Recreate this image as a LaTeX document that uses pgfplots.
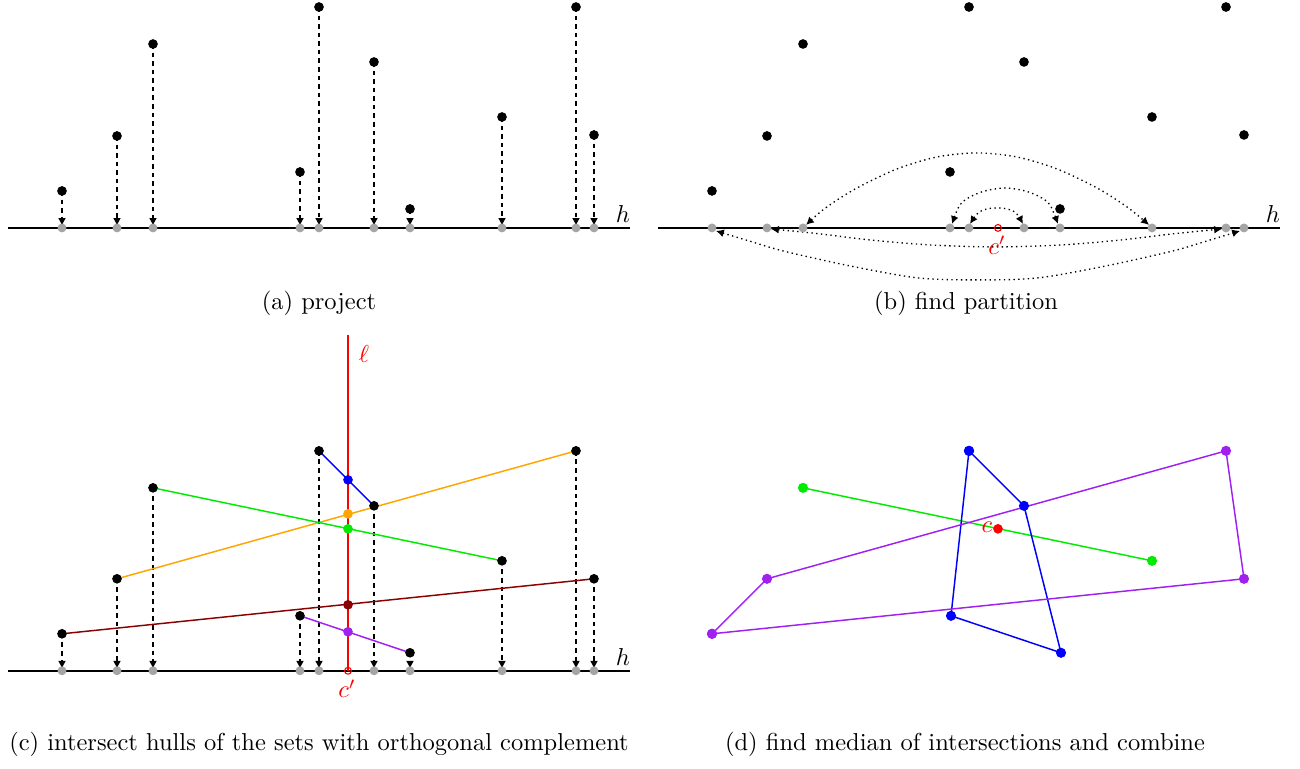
\documentclass[border=0pt]{standalone}
\usepackage{pgfplots}
\pgfplotsset{compat=1.18}
\usetikzlibrary{arrows.meta}
\definecolor{myorange}{RGB}{255,165,0}
\definecolor{mygreen}{RGB}{0,235,0}
\definecolor{mydarkred}{RGB}{139,0,0}
\definecolor{mypurple}{RGB}{160,32,240}
\definecolor{mygrey}{RGB}{165,165,165}
\tikzset{
  tip/.style={-{Latex[length=3.2pt,width=3.2pt]}},
  dtip/.style={{Latex[length=3.2pt,width=3.2pt]}-{Latex[length=3.2pt,width=3.2pt]}},
  proj/.style={black, line width=0.55pt, dash pattern=on 1.9pt off 1.6pt},
  arc/.style={black, line width=0.55pt, dash pattern=on 0.55pt off 1.4pt, smooth},
}
\begin{document}
\begin{tikzpicture}
\begin{axis}[
  scale only axis, width=531pt, height=314pt,
  xmin=0, xmax=1300, ymin=0, ymax=769, y dir=reverse,
  axis lines=none, clip=false,
  blackpt/.style={only marks, mark=*, mark size=1.75pt, black},
  greypt/.style={only marks, mark=*, mark size=1.6pt, draw=mygrey, fill=mygrey},
]
\addplot[draw=none] coordinates {(0,0) (1300,769)};

% ---------------- panel (a)
\addplot[black, line width=0.6pt] coordinates {(8,228) (630,228)};
\addplot[proj, tip, quiver={u=0, v=\thisrow{v}}] table {
x y v
62 191 35
117 136 90
153 44 182
300 172 54
319 7 219
374 62 164
410 209 17
502 117 109
576 7 219
594 135 91
};
\addplot[greypt] coordinates {(62,228) (117,228) (153,228) (300,228) (319,228) (374,228) (410,228) (502,228) (576,228) (594,228)};
\addplot[blackpt] coordinates {(62,191) (117,136) (153,44) (300,172) (319,7) (374,62) (410,209) (502,117) (576,7) (594,135)};
\node[anchor=center] at (axis cs:623,214) {$h$};
\node[anchor=center] at (axis cs:319,303) {(a) project};

% ---------------- panel (b)
\addplot[black, line width=0.6pt] coordinates {(658,228) (1280,228)};
\addplot[arc, dtip] coordinates {(806,225) (827,207) (857,188) (897,169) (937,157) (977,153) (1017,157) (1057,169) (1097,188) (1127,207) (1149,225)};
\addplot[arc, dtip] coordinates {(952,224) (960,205) (970,197) (985,191) (1005,188) (1025,191) (1040,197) (1050,205) (1058,224)};
\addplot[arc, dtip] coordinates {(970,224) (978,213) (987,209) (997,208) (1007,209) (1016,213) (1023,224)};
\addplot[arc, dtip] coordinates {(771,229) (820,234) (870,240) (930,245) (996,247) (1062,245) (1122,240) (1172,234) (1222,229)};
\addplot[arc, dtip] coordinates {(716,231) (749,241) (783,251) (850,266) (918,278) (978,280) (1038,278) (1106,266) (1173,251) (1207,241) (1240,231)};
\addplot[greypt] coordinates {(712,228) (767,228) (803,228) (950,228) (969,228) (1024,228) (1060,228) (1152,228) (1226,228) (1244,228)};
\addplot[blackpt] coordinates {(712,191) (767,136) (803,44) (950,172) (969,7) (1024,62) (1060,209) (1152,117) (1226,7) (1244,135)};
\addplot[only marks, mark=o, mark size=1.4pt, red, line width=0.45pt] coordinates {(998,228)};
\node[red, anchor=center] at (axis cs:997,245) {$c'$};
\node[anchor=center] at (axis cs:1273,214) {$h$};
\node[anchor=center] at (axis cs:966,303) {(b) find partition};

% ---------------- panel (c)
\addplot[black, line width=0.6pt] coordinates {(8,671) (630,671)};
\addplot[proj, tip, quiver={u=0, v=\thisrow{v}}] table {
x y v
62 634 35
117 579 90
153 488 181
300 616 53
319 451 218
374 506 163
410 653 16
502 561 108
576 451 218
594 579 90
};
\addplot[red, line width=0.6pt] coordinates {(348,335) (348,671)};
\addplot[blue, line width=0.6pt] coordinates {(319,451) (374,506)};
\addplot[myorange, line width=0.6pt] coordinates {(117,579) (576,451)};
\addplot[mygreen, line width=0.6pt] coordinates {(153,488) (502,561)};
\addplot[mydarkred, line width=0.6pt] coordinates {(62,634) (594,579)};
\addplot[mypurple, line width=0.6pt] coordinates {(300,616) (410,653)};
\addplot[greypt] coordinates {(62,671) (117,671) (153,671) (300,671) (319,671) (374,671) (410,671) (502,671) (576,671) (594,671)};
\addplot[blackpt] coordinates {(62,634) (117,579) (153,488) (300,616) (319,451) (374,506) (410,653) (502,561) (576,451) (594,579)};
\addplot[only marks, mark=*, mark size=1.75pt, blue] coordinates {(348,480)};
\addplot[only marks, mark=*, mark size=1.75pt, myorange] coordinates {(348,514)};
\addplot[only marks, mark=*, mark size=1.75pt, mygreen] coordinates {(348,529)};
\addplot[only marks, mark=*, mark size=1.75pt, mydarkred] coordinates {(348,605)};
\addplot[only marks, mark=*, mark size=1.75pt, mypurple] coordinates {(348,632)};
\addplot[only marks, mark=o, mark size=1.4pt, red, line width=0.45pt, fill=white] coordinates {(348,671)};
\node[red, anchor=center] at (axis cs:364,354) {$\ell$};
\node[red, anchor=center] at (axis cs:347,689) {$c'$};
\node[anchor=center] at (axis cs:623,657) {$h$};
\node[anchor=center] at (axis cs:319,745) {(c) intersect hulls of the sets with orthogonal complement};

% ---------------- panel (d)
\addplot[mygreen, line width=0.6pt, mark=*, mark size=1.75pt] coordinates {(803,488) (1152,561)};
\addplot[blue, line width=0.6pt, mark=*, mark size=1.75pt] coordinates {(969,451) (1024,506) (1061,653) (951,616) (969,451)};
\addplot[mypurple, line width=0.6pt, mark=*, mark size=1.75pt] coordinates {(712,634) (767,579) (1226,451) (1244,579) (712,634)};
\addplot[only marks, mark=*, mark size=1.75pt, red] coordinates {(998,529)};
\node[red, anchor=center] at (axis cs:987,527) {$c$};
\node[anchor=center] at (axis cs:965,745) {(d) find median of intersections and combine};
\end{axis}
\end{tikzpicture}
\end{document}
